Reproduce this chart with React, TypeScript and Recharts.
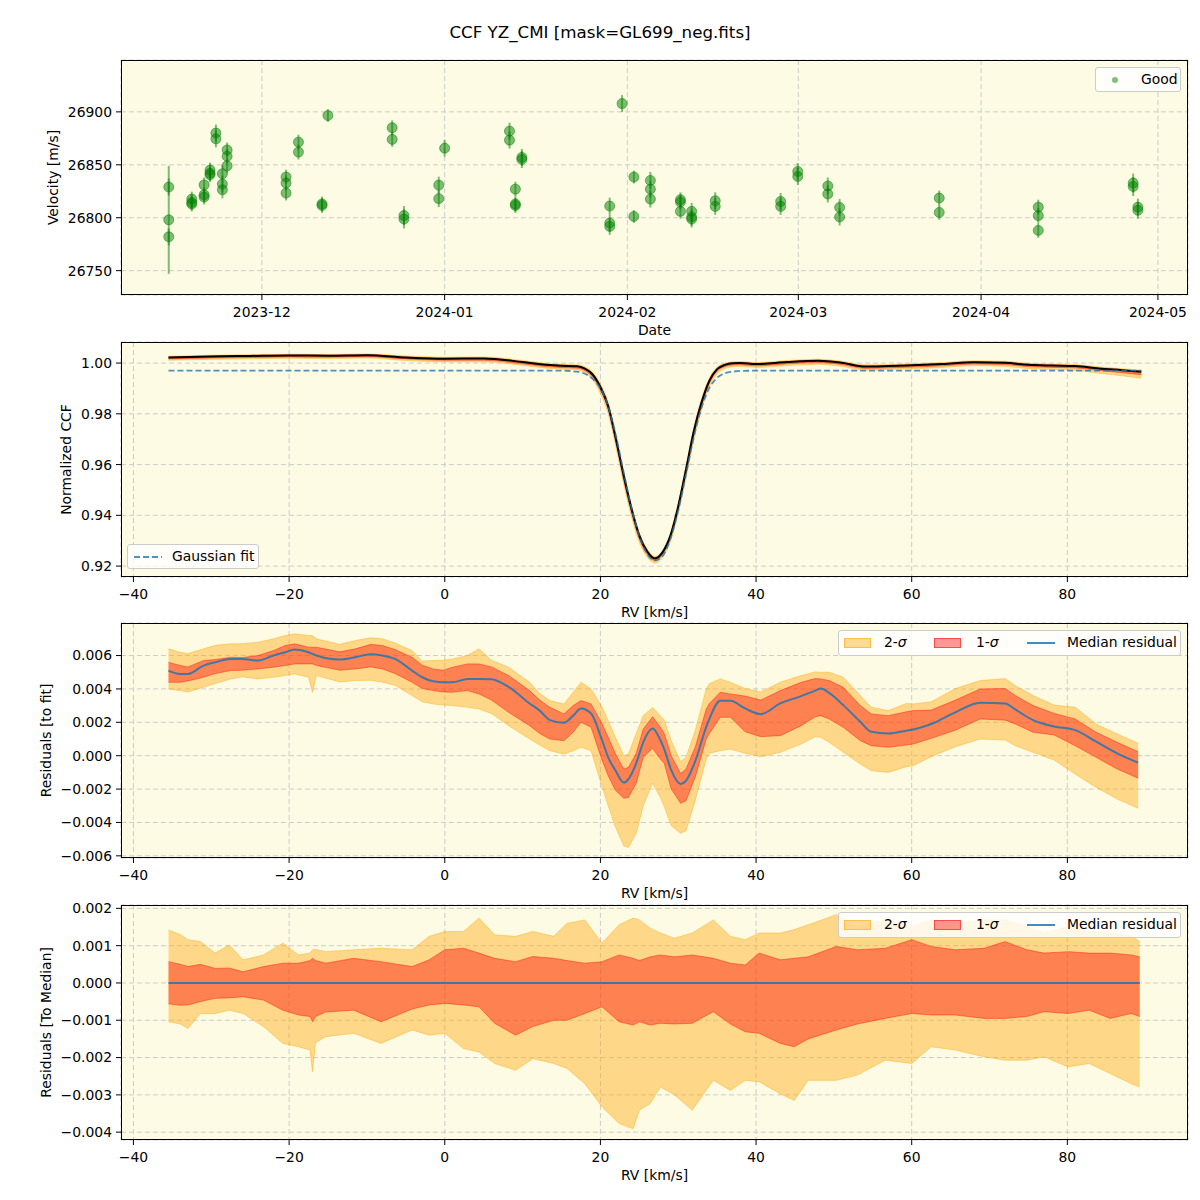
import React from "react";
import {
  Area,
  CartesianGrid,
  ComposedChart,
  ErrorBar,
  Label,
  Line,
  Scatter,
  XAxis,
  YAxis,
} from "recharts";

// ---------- panel 1: velocities per night ----------
// days counted from 2023-12-01
const dateTickDays = [0, 31, 62, 91, 122, 152];
const dateTickLabels = ["2023-12", "2024-01", "2024-02", "2024-03", "2024-04", "2024-05"];

const obsDay = [
  -15.8, -15.8, -15.8, -11.9, -11.9, -11.9, -9.8, -9.8, -9.8, -8.8, -8.8, -8.8,
  -7.8, -7.8, -6.7, -6.7, -6.7, -5.9, -5.9, -5.9, 4.1, 4.1, 4.1, 6.2, 6.2,
  10.2, 10.2, 11.2, 22.1, 22.1, 24.1, 24.1, 30.0, 30.0, 31.0, 42.0, 42.0,
  43.0, 43.0, 43.0, 44.1, 44.1, 59.0, 59.0, 59.0, 61.1, 63.1, 63.1,
  65.9, 65.9, 65.9, 71.0, 71.0, 71.0, 72.9, 72.9, 72.9, 76.9, 76.9,
  88.0, 88.0, 90.9, 90.9, 96.0, 96.0, 98.0, 98.0, 114.9, 114.9,
  131.7, 131.7, 131.7, 147.8, 147.8, 148.6, 148.6,
];
const obsRv = [
  26829, 26798, 26782, 26817.6, 26814.4, 26813, 26831, 26821.7, 26819.5, 26845, 26842, 26840.6,
  26880, 26874.5, 26841.5, 26831.8, 26826.4, 26864, 26858, 26849, 26838.4, 26832.7, 26823.3, 26871.4, 26862,
  26813, 26811.6, 26896.5, 26885, 26874, 26802, 26798.8, 26830.8, 26818, 26865.7, 26881.8, 26873.3,
  26827, 26811.6, 26813, 26857, 26855, 26811, 26795, 26791.8, 26907.8, 26838.4, 26801.2,
  26835.2, 26827, 26817.6, 26817, 26814.8, 26806, 26806, 26800.7, 26798.8, 26816, 26810.7,
  26815.4, 26810.7, 26843.7, 26839, 26830, 26822.4, 26809.7, 26800.7, 26818.6, 26805,
  26810, 26802, 26788, 26832.7, 26829.5, 26810, 26807,
];
const obsErr = [
  8, 51, 8, 7, 7, 7, 7, 7, 7, 7, 7, 7,
  8, 8, 8, 8, 8, 7, 7, 7, 7, 7, 7, 7, 7,
  7, 7, 6, 7, 7, 9, 9, 8, 8, 8, 8, 8,
  7, 7, 7, 8, 8, 8, 8, 8, 8, 6, 6,
  8, 8, 8, 7, 7, 7, 8, 8, 8, 8, 8,
  8, 8, 8, 8, 8, 8, 8, 8, 7, 7,
  7, 7, 7, 9, 9, 8, 8,
];

// ---------- panel 2: normalized CCF ----------
const ccfRv = [
  -35.5, -30, -25, -20, -15, -10, -5, 0, 5, 10,
  13, 15, 17, 18, 19, 20, 21, 22, 23, 24,
  25, 26, 27, 28, 29, 30, 31, 32, 33, 34,
  35, 36, 37, 38, 40, 44, 48, 51, 54, 57,
  60, 64, 68, 72, 75, 78, 81, 84, 87, 89.5,
];
const ccfMed = [
  1.0022, 1.0026, 1.0028, 1.003, 1.0029, 1.0031, 1.0022, 1.0017, 1.0018, 1.0004,
  0.9993, 0.9989, 0.9987, 0.9978, 0.9955, 0.9905, 0.983, 0.97, 0.9555, 0.9425,
  0.932, 0.9258, 0.923, 0.9255, 0.932, 0.9435, 0.958, 0.973, 0.9845, 0.993,
  0.9976, 0.9993, 0.9999, 1.0, 0.9996, 1.0004, 1.0009, 1.0001, 0.9986, 0.9988,
  0.9991, 0.9996, 1.0003, 1.0001, 0.9993, 0.999, 0.9988, 0.9979, 0.9972, 0.9966,
];
const ccfHi1 = [
  1.0024, 1.0028, 1.003, 1.0032, 1.0031, 1.0033, 1.0024, 1.0019, 1.002, 1.0006,
  0.9995, 0.9991, 0.9989, 0.998, 0.9958, 0.991, 0.9836, 0.9707, 0.9562, 0.9431,
  0.9325, 0.9262, 0.9233, 0.9258, 0.9325, 0.9442, 0.9588, 0.9738, 0.9852, 0.9935,
  0.9979, 0.9995, 1.0001, 1.0002, 0.9998, 1.0006, 1.0011, 1.0003, 0.9988, 0.999,
  0.9993, 0.9998, 1.0005, 1.0003, 0.9995, 0.9992, 0.999, 0.9981, 0.9974, 0.9968,
];
const ccfLo1 = [
  1.0016, 1.002, 1.0022, 1.0024, 1.0023, 1.0025, 1.0016, 1.0011, 1.0011, 0.9997,
  0.9986, 0.9982, 0.998, 0.997, 0.9945, 0.9893, 0.9816, 0.9685, 0.954, 0.941,
  0.9307, 0.9248, 0.9222, 0.9246, 0.931, 0.9422, 0.9565, 0.9715, 0.9832, 0.992,
  0.9968, 0.9986, 0.9992, 0.9993, 0.9989, 0.9997, 1.0002, 0.9994, 0.9979, 0.9981,
  0.9984, 0.9989, 0.9996, 0.9994, 0.9986, 0.9983, 0.9981, 0.9971, 0.9962, 0.9954,
];
const ccfHi2 = [
  1.0027, 1.0031, 1.0033, 1.0035, 1.0034, 1.0036, 1.0028, 1.0023, 1.0024, 1.001,
  0.9999, 0.9995, 0.9993, 0.9985, 0.9964, 0.9918, 0.9845, 0.9718, 0.9572, 0.944,
  0.9333, 0.9268, 0.9238, 0.9263, 0.9332, 0.945, 0.9598, 0.9748, 0.986, 0.9941,
  0.9984, 0.9999, 1.0005, 1.0006, 1.0002, 1.001, 1.0015, 1.0007, 0.9993, 0.9994,
  0.9997, 1.0002, 1.0009, 1.0007, 0.9999, 0.9996, 0.9994, 0.9985, 0.9978, 0.9972,
];
const ccfLo2 = [
  1.0011, 1.0015, 1.0017, 1.0019, 1.0018, 1.002, 1.001, 1.0005, 1.0005, 0.9991,
  0.998, 0.9976, 0.9973, 0.9962, 0.9935, 0.988, 0.98, 0.9668, 0.9522, 0.9393,
  0.9293, 0.9236, 0.9212, 0.9236, 0.9298, 0.9408, 0.955, 0.97, 0.9818, 0.9908,
  0.9958, 0.9978, 0.9985, 0.9987, 0.9983, 0.999, 0.9995, 0.9987, 0.9972, 0.9975,
  0.9978, 0.9983, 0.999, 0.9987, 0.9978, 0.9975, 0.9972, 0.996, 0.995, 0.994,
];
const gaussFit = [
  0.997, 0.997, 0.997, 0.997, 0.997, 0.997, 0.997, 0.997, 0.997, 0.997,
  0.997, 0.997, 0.9966, 0.9958, 0.9938, 0.99, 0.983, 0.9712, 0.9568, 0.9428,
  0.9318, 0.9248, 0.9222, 0.924, 0.9308, 0.942, 0.9562, 0.9708, 0.9825, 0.9902,
  0.9942, 0.996, 0.9966, 0.9969, 0.997, 0.997, 0.997, 0.997, 0.997, 0.997,
  0.997, 0.997, 0.997, 0.997, 0.997, 0.997, 0.997, 0.997, 0.997, 0.997,
];

// ---------- panel 3: residuals to fit ----------
const rv3 = [
  -35.5, -34, -33, -31, -29.5, -27.5, -26, -24, -22, -20.5,
  -19.3, -17.5, -17, -16.5, -13.5, -11.5, -9.5, -8, -6.4, -4.2,
  -2.9, -1.5, -0.2, 1, 2.9, 4.4, 6, 8.2, 10.9, 12.2,
  13.5, 15.3, 16.5, 17.5, 18.8, 20.2, 21, 21.9, 23, 23.6,
  24.6, 25.5, 26.7, 27.7, 28.2, 29.1, 30.3, 31, 32.2, 33.6,
  34, 35.4, 36.7, 38.6, 40.6, 43.1, 45.8, 47.6, 48.3, 49.4,
  51.2, 53.4, 54.8, 57, 59.3, 60.2, 62.5, 65.6, 68.8, 72,
  73.3, 75.6, 78.3, 81, 83.7, 86.4, 89.1,
];
const med3 = [
  0.0051, 0.0049, 0.0049, 0.0054, 0.0056, 0.0058, 0.0058, 0.0057, 0.006, 0.0062,
  0.00636, 0.0062, 0.0061, 0.006, 0.00576, 0.0059, 0.00608, 0.006, 0.0058, 0.0051,
  0.0047, 0.00446, 0.0044, 0.0044, 0.0046, 0.0046, 0.00458, 0.00412, 0.00313, 0.0027,
  0.00213, 0.00197, 0.0024, 0.00283, 0.00253, 0.00094, -0.0001, -0.00086, -0.00161, -0.0014,
  -0.00046, 0.0008, 0.00163, 0.00094, 0.0004, -0.00086, -0.00169, -0.0015, -0.0003, 0.00173,
  0.0022, 0.00329, 0.00329, 0.00283, 0.00249, 0.00313, 0.00357, 0.0039, 0.00402, 0.00376,
  0.00303, 0.00203, 0.00143, 0.00133, 0.0015, 0.00157, 0.0019, 0.0026, 0.00317, 0.00313,
  0.00277, 0.00213, 0.00175, 0.00153, 0.00084, 0.00014, -0.00042,
];
const lo1_3 = [
  0.0044, 0.0044, 0.00448, 0.0047, 0.00492, 0.0051, 0.00512, 0.0052, 0.0053, 0.0054,
  0.0055, 0.0055, 0.0055, 0.0054, 0.00512, 0.0052, 0.00532, 0.0052, 0.00492, 0.0044,
  0.00402, 0.0039, 0.00382, 0.0038, 0.0039, 0.0037, 0.00333, 0.0026, 0.0018, 0.00133,
  0.001, 0.0009, 0.0014, 0.002, 0.0017, -0.00026, -0.0012, -0.00205, -0.00255, -0.0025,
  -0.00165, -0.0001, 0.00044, -0.0002, -0.00046, -0.002, -0.00285, -0.0027, -0.00126, 0.001,
  0.00133, 0.0023, 0.0023, 0.00143, 0.00114, 0.0012, 0.0018, 0.00233, 0.0024, 0.0022,
  0.0017, 0.0009, 0.0006, 0.0005, 0.00064, 0.0007, 0.00104, 0.00153, 0.0022, 0.00213,
  0.0019, 0.0014, 0.00124, 0.0006, -0.0001, -0.0008, -0.00135,
];
const hi1_3 = [
  0.0056, 0.0054, 0.00532, 0.0057, 0.00576, 0.0059, 0.00588, 0.006, 0.0063, 0.0066,
  0.0067, 0.0065, 0.0065, 0.0065, 0.00622, 0.0064, 0.00667, 0.0066, 0.00636, 0.0059,
  0.00542, 0.0052, 0.00512, 0.0053, 0.0055, 0.0055, 0.00532, 0.0048, 0.0039, 0.00333,
  0.0029, 0.0025, 0.003, 0.0033, 0.0031, 0.00193, 0.0011, 0.00014, -0.0008, -0.0007,
  0.00014, 0.0016, 0.00233, 0.0017, 0.00133, 0.0, -0.00106, -0.0008, 0.00054, 0.0028,
  0.00313, 0.0038, 0.0037, 0.00357, 0.00333, 0.0039, 0.0044, 0.00462, 0.0046, 0.0045,
  0.0041, 0.003, 0.0025, 0.0024, 0.00263, 0.0027, 0.00273, 0.00333, 0.004, 0.00402,
  0.0036, 0.003, 0.00253, 0.0022, 0.0014, 0.0008, 0.00024,
];
const lo2_3 = [
  0.004, 0.0039, 0.00382, 0.0041, 0.00432, 0.0046, 0.00472, 0.0046, 0.0047, 0.0048,
  0.0049, 0.0047, 0.0038, 0.0048, 0.00442, 0.0045, 0.00452, 0.0044, 0.00422, 0.0036,
  0.00323, 0.0031, 0.00303, 0.003, 0.0029, 0.0028, 0.00253, 0.0018, 0.001, 0.00064,
  0.0003, 0.0001, 0.0003, 0.0005, 0.0003, -0.00185, -0.003, -0.00424, -0.0054, -0.0055,
  -0.00464, -0.003, -0.00165, -0.0025, -0.00305, -0.0042, -0.00464, -0.0045, -0.00265, -0.0002,
  0.00014, 0.0003, 0.0004, 0.00014, -0.00006, 0.0002, 0.0007, 0.00114, 0.0011, 0.0008,
  0.0002, -0.0005, -0.0009, -0.001, -0.00066, -0.0006, -0.00006, 0.00054, 0.001, 0.00094,
  0.0006, 0.0002, -0.00026, -0.0011, -0.0019, -0.0026, -0.00315,
];
const hi2_3 = [
  0.0064, 0.0062, 0.00612, 0.0064, 0.00661, 0.0067, 0.00671, 0.0068, 0.007, 0.0072,
  0.0073, 0.0072, 0.0072, 0.007, 0.00667, 0.0069, 0.00707, 0.007, 0.00675, 0.0063,
  0.00568, 0.0057, 0.00572, 0.0058, 0.006, 0.0064, 0.00572, 0.0053, 0.0044, 0.00373,
  0.0033, 0.0031, 0.0038, 0.0044, 0.004, 0.00293, 0.0021, 0.00114, 0.0, 0.0001,
  0.00133, 0.0024, 0.00289, 0.0024, 0.00213, 0.0009, -0.00036, -0.0001, 0.00153, 0.004,
  0.00432, 0.0046, 0.0044, 0.00402, 0.00382, 0.0044, 0.0048, 0.00502, 0.005, 0.005,
  0.0047, 0.0036, 0.0029, 0.0027, 0.00313, 0.0031, 0.00323, 0.00402, 0.0045, 0.00462,
  0.0042, 0.0036, 0.00303, 0.0029, 0.0019, 0.0013, 0.00074,
];

// ---------- panel 4: residuals to median ----------
const rv4 = [
  -35.5, -34, -33, -31.4, -29.5, -27.7, -25.9, -23.3, -20.8, -18.8,
  -17.3, -17, -16.6, -15.3, -11.7, -8.2, -4.2, -2, 0, 2.4,
  4.4, 6.4, 9.1, 11.3, 14, 15.7, 18, 20.2, 22.4, 24.2,
  25, 26.4, 27.7, 29.5, 31.8, 34.5, 36.7, 38.6, 40.4, 43.1,
  44.9, 46.7, 50.3, 53, 56.6, 60, 62.5, 65.6, 69.3, 72,
  74.8, 77, 80.1, 82.8, 85.5, 88.2, 89.3,
];
const lo2_4 = [
  -0.00104, -0.0011, -0.00122, -0.00082, -0.00082, -0.00073, -0.00082, -0.00117, -0.00162, -0.00171,
  -0.0018, -0.00238, -0.0016, -0.00144, -0.00135, -0.00162, -0.00126, -0.0014, -0.00135, -0.00176,
  -0.00185, -0.00216, -0.00234, -0.00203, -0.00216, -0.00229, -0.0027, -0.00332, -0.00377, -0.00391,
  -0.00341, -0.00323, -0.00279, -0.003, -0.00341, -0.00261, -0.00288, -0.00261, -0.00265, -0.00297,
  -0.00315, -0.00261, -0.00261, -0.00247, -0.00207, -0.00216, -0.00171, -0.0018, -0.00198, -0.00207,
  -0.00207, -0.00198, -0.00225, -0.00216, -0.00243, -0.0027, -0.00279,
];
const lo1_4 = [
  -0.00056, -0.0006, -0.00059, -0.0005, -0.00041, -0.0004, -0.00037, -0.00046, -0.00073, -0.00086,
  -0.0009, -0.00104, -0.0009, -0.00078, -0.00073, -0.00104, -0.0007, -0.00059, -0.00055, -0.00059,
  -0.00064, -0.00108, -0.0014, -0.00117, -0.001, -0.001, -0.00082, -0.00064, -0.00104, -0.00113,
  -0.00104, -0.00113, -0.00108, -0.0011, -0.00108, -0.00077, -0.0011, -0.00131, -0.00135, -0.00162,
  -0.00171, -0.0015, -0.00126, -0.0011, -0.00095, -0.00082, -0.00086, -0.00086, -0.00095, -0.00095,
  -0.0009, -0.00077, -0.00082, -0.00073, -0.00095, -0.00082, -0.0009,
];
const hi1_4 = [
  0.00057, 0.0005, 0.00044, 0.0005, 0.00039, 0.0004, 0.0003, 0.00044, 0.00053, 0.00053,
  0.0006, 0.00066, 0.0006, 0.00053, 0.00066, 0.00057, 0.00044, 0.00062, 0.00089, 0.00093,
  0.0008, 0.00066, 0.00057, 0.00071, 0.00066, 0.0006, 0.00053, 0.00057, 0.00075, 0.00066,
  0.0006, 0.0007, 0.00075, 0.0007, 0.00075, 0.00066, 0.00053, 0.00048, 0.0008, 0.00062,
  0.00066, 0.0007, 0.00098, 0.00089, 0.00093, 0.00116, 0.00098, 0.00089, 0.00093, 0.00111,
  0.00089, 0.0008, 0.00084, 0.0008, 0.0008, 0.00075, 0.0007,
];
const hi2_4 = [
  0.00142, 0.0013, 0.00116, 0.00111, 0.0008, 0.00102, 0.00062, 0.00075, 0.00107, 0.00075,
  0.0008, 0.00089, 0.0009, 0.00084, 0.00089, 0.00093, 0.00089, 0.00125, 0.00138, 0.00138,
  0.00174, 0.00129, 0.00125, 0.00138, 0.00125, 0.0016, 0.00169, 0.00107, 0.00156, 0.00174,
  0.00169, 0.00147, 0.00134, 0.0012, 0.00134, 0.00169, 0.00125, 0.00116, 0.00134, 0.00134,
  0.00143, 0.00156, 0.00183, 0.00151, 0.00169, 0.00151, 0.00169, 0.0016, 0.00169, 0.00169,
  0.00151, 0.00134, 0.00151, 0.00138, 0.00134, 0.00125, 0.00111,
];
const medEnds4 = [-35.5, 89.3];
const medVals4 = [0, 0];

// ---------- axes ----------
const rvTicks = [-40, -20, 0, 20, 40, 60, 80];
const velTicks = [26750, 26800, 26850, 26900];
const ccfTicks = [0.92, 0.94, 0.96, 0.98, 1.0];
const res1Ticks = [-0.006, -0.004, -0.002, 0, 0.002, 0.004, 0.006];
const res2Ticks = [-0.004, -0.003, -0.002, -0.001, 0, 0.001, 0.002];

const FONT = "'DejaVu Sans', sans-serif";
const FS = 13.9;
const BG = "#fdfbe3";
const ORANGE = "#ffa500";
const RED = "#ff0000";
const BLUE = "#1f77b4";
const PL = 121;
const PW = 1067;
const PH = 235;
const TOPS = [60, 342, 623, 905];
const RV_DOMAIN = [-41.6, 95.5];

const minus = (s: string) => s.replace("-", "\u2212");

const obsRows = obsDay.map((day, i) => ({ day, v: obsRv[i], err: obsErr[i] }));
const ccfRows = ccfRv.map((rv, i) => ({
  rv,
  med: ccfMed[i],
  s1: [ccfLo1[i], ccfHi1[i]],
  s2: [ccfLo2[i], ccfHi2[i]],
  fit: gaussFit[i],
}));
const res3Rows = rv3.map((rv, i) => ({
  rv,
  med: med3[i],
  s1: [lo1_3[i], hi1_3[i]],
  s2: [lo2_3[i], hi2_3[i]],
}));
const res4Rows = rv4.map((rv, i) => ({
  rv,
  s1: [lo1_4[i], hi1_4[i]],
  s2: [lo2_4[i], hi2_4[i]],
}));
const med4Rows = medEnds4.map((rv, i) => ({ rv, med: medVals4[i] }));

const tickStyle = { fontSize: FS, fill: "#000", fontFamily: FONT };

const yLabel = (text: string, cx: number) => (props: any) => {
  const vb = props.viewBox || { y: 10, height: PH };
  const cy = vb.y + vb.height / 2;
  return (
    <text
      x={cx}
      y={cy}
      transform={`rotate(-90 ${cx} ${cy})`}
      textAnchor="middle"
      dominantBaseline="central"
      fontSize={FS}
      fontFamily={FONT}
      fill="#000"
    >
      {text}
    </text>
  );
};

function Plot({ top, children }: { top: number; children: React.ReactNode }) {
  return (
    <>
      <div
        style={{ position: "absolute", left: PL, top, width: PW, height: PH, background: BG }}
      />
      <div style={{ position: "absolute", left: 0, top: top - 10 }}>{children}</div>
      <div
        style={{
          position: "absolute",
          left: PL,
          top,
          width: PW,
          height: PH,
          border: "1px solid #000",
          boxSizing: "border-box",
          pointerEvents: "none",
        }}
      />
    </>
  );
}

function LegendBox({
  left,
  top,
  width,
  height,
  children,
}: {
  left: number;
  top: number;
  width: number;
  height: number;
  children: React.ReactNode;
}) {
  return (
    <div
      style={{
        position: "absolute",
        left,
        top,
        width,
        height,
        background: "rgba(255,255,255,0.8)",
        border: "1px solid #cccccc",
        borderRadius: 3,
        boxSizing: "border-box",
        fontFamily: FONT,
        fontSize: FS,
      }}
    >
      {children}
    </div>
  );
}

const at = (left: number, extra: React.CSSProperties = {}): React.CSSProperties => ({
  position: "absolute",
  left,
  top: "50%",
  transform: "translateY(-50%)",
  whiteSpace: "nowrap",
  lineHeight: 1,
  ...extra,
});

function SigmaLegend({ top }: { top: number }) {
  return (
    <LegendBox left={838} top={top} width={343} height={26}>
      <div
        style={at(5, {
          width: 27,
          height: 10,
          background: "rgba(255,165,0,0.4)",
          border: "1px solid rgba(255,165,0,0.5)",
          boxSizing: "border-box",
        })}
      />
      <span style={at(45)}>
        2-<span style={{ fontStyle: "italic" }}>σ</span>
      </span>
      <div
        style={at(95, {
          width: 27,
          height: 10,
          background: "rgba(255,0,0,0.4)",
          border: "1px solid rgba(255,0,0,0.5)",
          boxSizing: "border-box",
        })}
      />
      <span style={at(137)}>
        1-<span style={{ fontStyle: "italic" }}>σ</span>
      </span>
      <div style={at(188, { width: 28, height: 2, background: BLUE, opacity: 0.85 })} />
      <span style={at(228)}>Median residual</span>
    </LegendBox>
  );
}

const xAxisProps = {
  type: "number" as const,
  allowDataOverflow: true,
  interval: 0 as const,
  tickSize: 5,
  tickMargin: 7,
  tick: tickStyle,
  tickLine: { stroke: "#000" },
  axisLine: false,
  height: 50,
};
const yAxisProps = {
  type: "number" as const,
  allowDataOverflow: true,
  interval: 0 as const,
  tickSize: 5,
  tickMargin: 4,
  tick: tickStyle,
  tickLine: { stroke: "#000" },
  axisLine: false,
  width: PL,
};
const MARGIN = { top: 10, right: 12, bottom: 0, left: 0 };
const CH = 10 + PH + 50;
const grid = <CartesianGrid stroke="#cccccc" strokeDasharray="5 3" />;

const xLabel = (text: string) => (
  <Label value={text} position="insideBottom" offset={10} style={{ ...tickStyle }} />
);

export default function App() {
  return (
    <div
      style={{
        position: "absolute",
        left: 0,
        top: 0,
        width: 1200,
        height: 1200,
        background: "#fff",
        fontFamily: FONT,
      }}
    >
      <div
        style={{
          position: "absolute",
          top: 22,
          left: 0,
          width: 1200,
          textAlign: "center",
          fontSize: 16.7,
          lineHeight: "20px",
        }}
      >
        CCF YZ_CMI [mask=GL699_neg.fits]
      </div>

      {/* velocities */}
      <Plot top={TOPS[0]}>
        <ComposedChart width={1200} height={CH} data={obsRows} margin={MARGIN}>
          {grid}
          <XAxis
            {...xAxisProps}
            dataKey="day"
            domain={[-23.9, 157.1]}
            ticks={dateTickDays}
            tickFormatter={(d: number) => dateTickLabels[dateTickDays.indexOf(d)] ?? ""}
          >
            {xLabel("Date")}
          </XAxis>
          <YAxis
            {...yAxisProps}
            dataKey="v"
            domain={[26727, 26949]}
            ticks={velTicks}
            label={{ content: yLabel("Velocity [m/s]", 53) }}
          />
          <Scatter
            dataKey="v"
            isAnimationActive={false}
            shape={(p: any) => (
              <circle
                cx={p.cx}
                cy={p.cy}
                r={5}
                fill="#008000"
                fillOpacity={0.5}
                stroke="#008000"
                strokeOpacity={0.5}
              />
            )}
          >
            <ErrorBar
              dataKey="err"
              direction="y"
              width={0}
              stroke="#008000"
              strokeOpacity={0.5}
              strokeWidth={2}
            />
          </Scatter>
        </ComposedChart>
      </Plot>
      <LegendBox left={1095} top={67} width={86} height={25}>
        <div
          style={at(16, {
            width: 6,
            height: 6,
            borderRadius: 3,
            background: "rgba(0,128,0,0.5)",
          })}
        />
        <span style={at(45)}>Good</span>
      </LegendBox>

      {/* normalized CCF */}
      <Plot top={TOPS[1]}>
        <ComposedChart width={1200} height={CH} data={ccfRows} margin={MARGIN}>
          {grid}
          <XAxis {...xAxisProps} dataKey="rv" domain={RV_DOMAIN} ticks={rvTicks} tickFormatter={(v: number) => minus(String(v))}>
            {xLabel("RV [km/s]")}
          </XAxis>
          <YAxis
            {...yAxisProps}
            domain={[0.9157, 1.0083]}
            ticks={ccfTicks}
            tickFormatter={(v: number) => v.toFixed(2)}
            label={{ content: yLabel("Normalized CCF", 66) }}
          />
          <Area type="monotone" dataKey="s2" fill={ORANGE} fillOpacity={0.4} stroke={ORANGE} strokeOpacity={0.4} isAnimationActive={false} />
          <Area type="monotone" dataKey="s1" fill={RED} fillOpacity={0.4} stroke={RED} strokeOpacity={0.4} isAnimationActive={false} />
          <Line type="monotone" dataKey="med" stroke="#000" strokeWidth={2} dot={false} isAnimationActive={false} />
          <Line type="monotone" dataKey="fit" stroke={BLUE} strokeOpacity={0.8} strokeWidth={1.8} strokeDasharray="6 3" dot={false} isAnimationActive={false} />
        </ComposedChart>
      </Plot>
      <LegendBox left={127} top={544} width={132} height={25}>
        <svg style={at(6)} width={28} height={4}>
          <line x1={0} y1={2} x2={28} y2={2} stroke={BLUE} strokeOpacity={0.8} strokeWidth={1.8} strokeDasharray="6 3" />
        </svg>
        <span style={at(44)}>Gaussian fit</span>
      </LegendBox>

      {/* residuals to fit */}
      <Plot top={TOPS[2]}>
        <ComposedChart width={1200} height={CH} data={res3Rows} margin={MARGIN}>
          {grid}
          <XAxis {...xAxisProps} dataKey="rv" domain={RV_DOMAIN} ticks={rvTicks} tickFormatter={(v: number) => minus(String(v))}>
            {xLabel("RV [km/s]")}
          </XAxis>
          <YAxis
            {...yAxisProps}
            domain={[-0.00613, 0.00795]}
            ticks={res1Ticks}
            tickFormatter={(v: number) => minus(v.toFixed(3))}
            label={{ content: yLabel("Residuals [to fit]", 46) }}
          />
          <Area type="linear" dataKey="s2" fill={ORANGE} fillOpacity={0.4} stroke={ORANGE} strokeOpacity={0.4} isAnimationActive={false} />
          <Area type="linear" dataKey="s1" fill={RED} fillOpacity={0.4} stroke={RED} strokeOpacity={0.4} isAnimationActive={false} />
          <Line type="monotone" dataKey="med" stroke={BLUE} strokeOpacity={0.85} strokeWidth={2} dot={false} isAnimationActive={false} />
        </ComposedChart>
      </Plot>
      <SigmaLegend top={630} />

      {/* residuals to median */}
      <Plot top={TOPS[3]}>
        <ComposedChart width={1200} height={CH} data={res4Rows} margin={MARGIN}>
          {grid}
          <XAxis {...xAxisProps} dataKey="rv" domain={RV_DOMAIN} ticks={rvTicks} tickFormatter={(v: number) => minus(String(v))}>
            {xLabel("RV [km/s]")}
          </XAxis>
          <YAxis
            {...yAxisProps}
            domain={[-0.00421, 0.00209]}
            ticks={res2Ticks}
            tickFormatter={(v: number) => minus(v.toFixed(3))}
            label={{ content: yLabel("Residuals [To Median]", 46) }}
          />
          <Area type="linear" dataKey="s2" fill={ORANGE} fillOpacity={0.4} stroke={ORANGE} strokeOpacity={0.4} isAnimationActive={false} />
          <Area type="linear" dataKey="s1" fill={RED} fillOpacity={0.4} stroke={RED} strokeOpacity={0.4} isAnimationActive={false} />
          <Line data={med4Rows} type="linear" dataKey="med" stroke={BLUE} strokeOpacity={0.85} strokeWidth={2} dot={false} isAnimationActive={false} />
        </ComposedChart>
      </Plot>
      <SigmaLegend top={912} />
    </div>
  );
}
